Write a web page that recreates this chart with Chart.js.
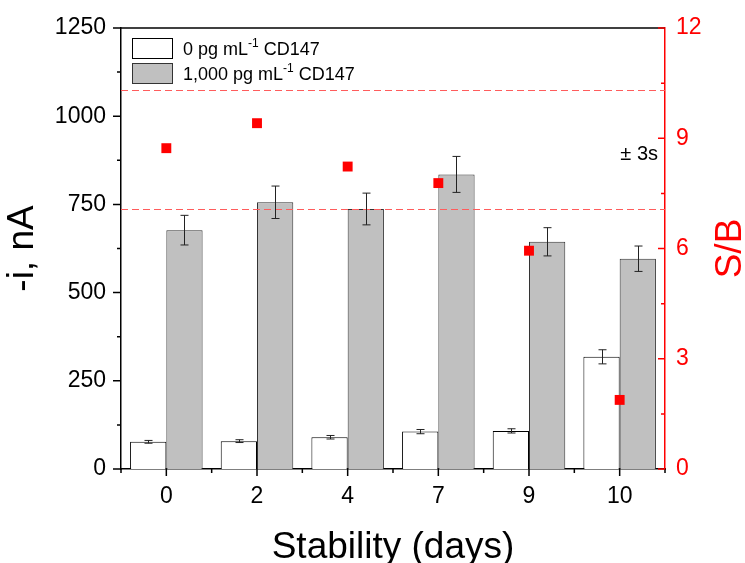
<!DOCTYPE html>
<html lang="en">
<head>
<meta charset="UTF-8">
<title>Stability</title>
<script src="https://cdn.jsdelivr.net/npm/chart.js"></script>
<style>
  body { margin: 0; background: #fff; }
</style>
</head>
<body>
<canvas id="chart" width="745" height="563"></canvas>
<script>
// values
const days = ['0', '2', '4', '7', '9', '10'];
const blank = [77, 79, 90, 106, 108, 318];
const blankErr = [4, 4, 5, 6, 6, 20];
const target = [677, 756, 737, 835, 644, 596];
const targetErr = [42, 46, 45, 51, 40, 36];
const ratio = [8.73, 9.41, 8.23, 7.78, 5.94, 1.88];
const limits = [10.30, 7.08];   // +/- 3s lines on the S/B axis
const leftTicks = [0, 250, 500, 750, 1000, 1250];
const rightTicks = [0, 3, 6, 9, 12];

const FONT = '"Liberation Sans", Arial, sans-serif';
const RED = '#ff0000';

const extras = {
    id: 'extras',
    afterDatasetsDraw(chart) {
        const ctx = chart.ctx;
        const y = chart.scales.y, y2 = chart.scales.y2;
        const area = chart.chartArea;
        ctx.save();
        // dashed limit lines
        ctx.strokeStyle = '#ff5c5c';
        ctx.lineWidth = 1;
        ctx.setLineDash([7, 4]);
        limits.forEach(v => {
            const py = Math.round(y2.getPixelForValue(v)) + 0.5;
            ctx.beginPath();
            ctx.moveTo(area.left, py);
            ctx.lineTo(area.right, py);
            ctx.stroke();
        });
        ctx.setLineDash([]);
        // error bars
        ctx.strokeStyle = '#222';
        chart.data.datasets.forEach((ds, i) => {
            if (!ds.errors) return;
            chart.getDatasetMeta(i).data.forEach((bar, j) => {
                const top = y.getPixelForValue(ds.data[j] + ds.errors[j]);
                const bot = y.getPixelForValue(ds.data[j] - ds.errors[j]);
                const cx = Math.round(bar.x) + 0.5;
                ctx.beginPath();
                ctx.moveTo(cx, top); ctx.lineTo(cx, bot);
                ctx.moveTo(cx - 4, top); ctx.lineTo(cx + 4, top);
                ctx.moveTo(cx - 4, bot); ctx.lineTo(cx + 4, bot);
                ctx.stroke();
            });
        });
        ctx.restore();
    },
    afterDraw(chart) {
        const ctx = chart.ctx;
        const x = chart.scales.x, y = chart.scales.y, y2 = chart.scales.y2;
        const area = chart.chartArea;
        ctx.save();
        ctx.lineWidth = 1.5;

        // top frame
        ctx.strokeStyle = '#000';
        ctx.beginPath();
        ctx.moveTo(area.left, area.top);
        ctx.lineTo(area.right, area.top);
        ctx.stroke();

        // left ticks (outward), minor in between
        ctx.beginPath();
        for (let v = 0; v <= 1250; v += 125) {
            const py = y.getPixelForValue(v);
            const len = leftTicks.includes(v) ? 8 : 4;
            ctx.moveTo(area.left, py);
            ctx.lineTo(area.left - len, py);
        }
        // bottom ticks
        days.forEach((d, i) => {
            const px = x.getPixelForValue(i);
            ctx.moveTo(px, area.bottom);
            ctx.lineTo(px, area.bottom + 7);
        });
        for (let i = 0; i <= days.length; i++) {
            const px = x.getPixelForValue(i - 0.5);
            ctx.moveTo(px, area.bottom);
            ctx.lineTo(px, area.bottom + 4);
        }
        ctx.stroke();

        // right ticks (inward), red
        ctx.strokeStyle = RED;
        ctx.beginPath();
        for (let v = 0; v <= 12; v += 1.5) {
            const py = y2.getPixelForValue(v);
            const len = rightTicks.includes(v) ? 7 : 4;
            ctx.moveTo(area.right, py);
            ctx.lineTo(area.right - len, py);
        }
        ctx.stroke();

        // legend
        const lx = area.left + 11, ly = area.top + 10;
        const rows = [
            { fill: '#ffffff', stroke: '#000', pre: '0 pg mL' },
            { fill: '#c0c0c0', stroke: '#333', pre: '1,000 pg mL' }
        ];
        ctx.lineWidth = 1;
        ctx.textBaseline = 'alphabetic';
        rows.forEach((r, i) => {
            const by = ly + i * 25;
            ctx.fillStyle = r.fill;
            ctx.fillRect(lx, by, 40, 20);
            ctx.strokeStyle = r.stroke;
            ctx.strokeRect(lx + 0.5, by + 0.5, 40, 20);
            ctx.fillStyle = '#000';
            ctx.font = '18px ' + FONT;
            let tx = lx + 51;
            const base = by + 17;
            ctx.fillText(r.pre, tx, base);
            tx += ctx.measureText(r.pre).width;
            ctx.font = '12px ' + FONT;
            ctx.fillText('-1', tx, base - 8);
            tx += ctx.measureText('-1').width;
            ctx.font = '18px ' + FONT;
            ctx.fillText(' CD147', tx, base);
        });

        // +/- 3s label
        ctx.font = '20px ' + FONT;
        ctx.textAlign = 'right';
        ctx.fillStyle = '#000';
        ctx.fillText('\u00B1 3s', area.right - 7, area.top + 132);

        // right axis title, reading bottom to top
        ctx.fillStyle = RED;
        ctx.font = '37px ' + FONT;
        ctx.textAlign = 'center';
        ctx.translate(741, (area.top + area.bottom) / 2);
        ctx.rotate(-Math.PI / 2);
        ctx.fillText('S/B', 0, 0);
        ctx.restore();
    }
};

new Chart(document.getElementById('chart'), {
    type: 'bar',
    data: {
        labels: days,
        datasets: [
            {
                type: 'line',
                label: 'S/B',
                data: ratio,
                yAxisID: 'y2',
                showLine: false,
                pointStyle: 'rect',
                pointRadius: 7,
                pointBackgroundColor: RED,
                pointBorderWidth: 0,
                borderColor: RED,
                order: 0
            },
            {
                label: '0 pg mL-1 CD147',
                data: blank,
                errors: blankErr,
                backgroundColor: '#ffffff',
                borderColor: '#000',
                borderWidth: 1,
                categoryPercentage: 0.8,
                barPercentage: 1.0,
                order: 1
            },
            {
                label: '1,000 pg mL-1 CD147',
                data: target,
                errors: targetErr,
                backgroundColor: '#c0c0c0',
                borderColor: '#333',
                borderWidth: 1,
                categoryPercentage: 0.8,
                barPercentage: 1.0,
                order: 1
            }
        ]
    },
    options: {
        responsive: false,
        animation: false,
        layout: { padding: { top: 28, left: 0, right: 0, bottom: 0 } },
        plugins: {
            legend: { display: false },
            tooltip: { enabled: false }
        },
        scales: {
            x: {
                afterFit: s => { s.height = 94; },
                grid: { display: false, tickLength: 8 },
                border: { display: true, color: '#000', width: 1.5 },
                ticks: { color: '#000', font: { family: FONT, size: 23 }, padding: 6 },
                title: {
                    display: true,
                    text: 'Stability (days)',
                    color: '#000',
                    font: { family: FONT, size: 37, lineHeight: 1 },
                    padding: { top: 0, bottom: -3 }
                }
            },
            y: {
                position: 'left',
                min: 0,
                max: 1250,
                afterFit: s => { s.width = 121; },
                afterBuildTicks: s => { s.ticks = leftTicks.map(v => ({ value: v })); },
                grid: { display: false, tickLength: 8 },
                border: { display: true, color: '#000', width: 1.5 },
                ticks: {
                    color: '#000',
                    font: { family: FONT, size: 23 },
                    padding: 7,
                    callback: v => String(v)
                },
                title: {
                    display: true,
                    text: '-i, nA',
                    color: '#000',
                    font: { family: FONT, size: 37, lineHeight: 1 },
                    padding: { top: 4, bottom: 0 }
                }
            },
            y2: {
                position: 'right',
                min: 0,
                max: 12,
                afterFit: s => { s.width = 80; },
                afterBuildTicks: s => { s.ticks = rightTicks.map(v => ({ value: v })); },
                grid: { display: false, tickLength: 8 },
                border: { display: true, color: RED, width: 1.5 },
                ticks: {
                    color: RED,
                    font: { family: FONT, size: 23 },
                    padding: 3,
                    callback: v => String(v)
                }
            }
        }
    },
    plugins: [extras]
});
</script>
</body>
</html>
